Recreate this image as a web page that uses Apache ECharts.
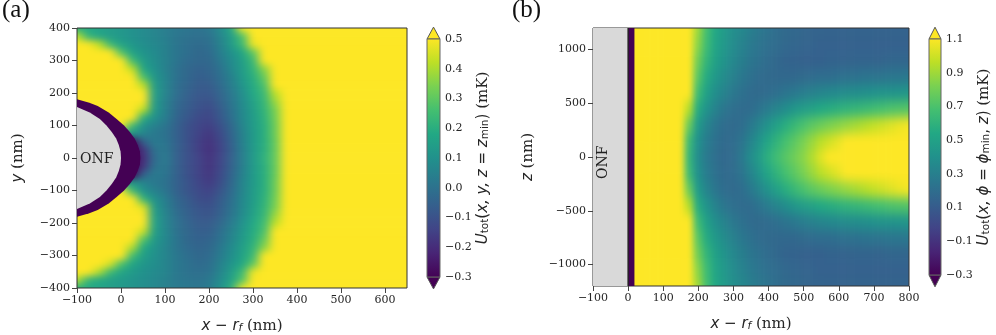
<!DOCTYPE html>
<html>
<head>
<meta charset="utf-8">
<title>Trap potential maps</title>
<script src="https://cdn.jsdelivr.net/npm/echarts@6/dist/echarts.min.js"></script>
<style>
  html, body { margin: 0; padding: 0; background: #fff; }
  #page { position: relative; width: 996px; height: 335px; overflow: hidden; }
  #overlay { position: absolute; left: 0; top: 0; width: 996px; height: 335px; }
  .clip { position: absolute; overflow: hidden; }
  .heat { position: absolute; }
  #heatA { filter: url(#softA); }
  #heatB { filter: url(#softB); }
</style>
</head>
<body>
<svg width="0" height="0" style="position:absolute">
  <filter id="softA" x="0" y="0" width="100%" height="100%" color-interpolation-filters="sRGB"><feGaussianBlur stdDeviation="4.6 3.6"/></filter>
  <filter id="softB" x="0" y="0" width="100%" height="100%" color-interpolation-filters="sRGB"><feGaussianBlur stdDeviation="3 5.5"/></filter>
</svg>
<div id="page">
  <div class="clip" style="left:77px;top:28px;width:330px;height:260px"><div class="heat" id="heatA"></div></div>
  <div class="clip" style="left:593px;top:28px;width:316px;height:258px"><div class="heat" id="heatB"></div></div>
  <div id="overlay"></div>
</div>
<script>
const viridis = ['#440154', '#482475', '#414487', '#355f8d', '#2a788e', '#21918c', '#22a884', '#44bf70', '#7ad151', '#bddf26', '#fde725'];

// panel (a): U_tot in the x-y plane, mK. Values above 0.5 are saturated in the picture
const xNmA = [-100, -75, -50, -25, 0, 25, 50, 75, 100, 125, 150, 175, 200, 225, 250, 275, 300, 325, 350, 375, 400, 425, 450, 475, 500, 525, 550, 575, 600, 625, 650];
const yNmA = [400, 375, 350, 325, 300, 275, 250, 225, 200, 175, 150, 125, 100, 75, 50, 25, 0, -25, -50, -75, -100, -125, -150, -175, -200, -225, -250, -275, -300, -325, -350, -375, -400];
const SAT = [.7, .7, .7, .7, .7, .7, .7, .7, .7, .7]; // x = 425 to 650, all yellow
const valuesA = [
  [.2, .18, .16, .14, .12, .1, .08, .06, .04, .02, .01, .0, .02, .08, .18, .48, .7, .7, .7, .7, .7, ...SAT],
  [.42, .22, .17, .14, .12, .1, .08, .06, .04, .01, .0, -.01, .0, .06, .14, .27, .65, .7, .7, .7, .7, ...SAT],
  [.7, .6, .42, .24, .16, .12, .09, .07, .05, .01, -.01, -.02, -.01, .05, .14, .24, .48, .7, .7, .7, .7, ...SAT],
  [.7, .7, .7, .5, .28, .16, .11, .08, .05, .01, -.01, -.03, -.02, .04, .1, .17, .3, .65, .7, .7, .7, ...SAT],
  [.7, .7, .7, .7, .6, .25, .14, .09, .05, .01, -.02, -.03, -.03, .02, .08, .15, .24, .5, .7, .7, .7, ...SAT],
  [.7, .7, .7, .7, .7, .42, .17, .1, .05, .0, -.03, -.05, -.04, .0, .07, .14, .22, .36, .7, .7, .7, ...SAT],
  [.7, .7, .7, .7, .7, .65, .27, .12, .06, .0, -.03, -.06, -.05, -.01, .05, .13, .2, .31, .65, .7, .7, ...SAT],
  [.7, .7, .7, .7, .7, .7, .42, .14, .06, -.01, -.04, -.07, -.07, -.02, .04, .11, .19, .27, .5, .7, .7, ...SAT],
  [.7, .7, .7, .7, .7, .7, .52, .15, .06, -.01, -.05, -.08, -.08, -.04, .02, .09, .18, .24, .42, .7, .7, ...SAT],
  [.7, .7, .7, .7, .7, .7, .54, .14, .05, -.02, -.06, -.09, -.1, -.05, .01, .08, .16, .23, .38, .7, .7, ...SAT],
  [.7, .7, .7, .7, .7, .7, .42, .13, .05, -.03, -.07, -.1, -.12, -.07, .0, .07, .15, .22, .34, .68, .7, ...SAT],
  [.7, .7, .7, .7, .7, .58, .2, .1, .04, -.04, -.08, -.12, -.13, -.08, -.01, .07, .14, .21, .33, .66, .7, ...SAT],
  [.7, .7, .7, .7, .5, .24, .1, .05, .01, -.05, -.1, -.13, -.15, -.1, -.03, .06, .14, .2, .32, .64, .7, ...SAT],
  [.1, .1, .1, .1, .1, .12, .06, .02, .0, -.05, -.1, -.14, -.17, -.12, -.04, .05, .13, .2, .32, .62, .7, ...SAT],
  [-.3, -.3, -.3, -.3, -.3, -.3, -.05, .03, .01, -.05, -.1, -.15, -.18, -.13, -.05, .05, .13, .2, .31, .62, .7, ...SAT],
  [-.3, -.3, -.3, -.3, -.3, -.3, -.18, .0, .02, -.05, -.1, -.15, -.19, -.14, -.06, .04, .13, .2, .31, .62, .7, ...SAT],
  [-.3, -.3, -.3, -.3, -.3, -.3, -.2, -.02, .03, -.05, -.1, -.14, -.18, -.13, -.05, .04, .13, .21, .31, .62, .7, ...SAT],
  [-.3, -.3, -.3, -.3, -.3, -.3, -.18, .0, .02, -.05, -.1, -.14, -.18, -.13, -.05, .04, .13, .2, .31, .62, .7, ...SAT],
  [-.3, -.3, -.3, -.3, -.3, -.3, -.05, .03, .01, -.05, -.1, -.14, -.17, -.12, -.04, .05, .13, .2, .31, .62, .7, ...SAT],
  [.1, .1, .1, .1, .1, .12, .06, .02, .0, -.05, -.09, -.13, -.16, -.11, -.03, .06, .13, .2, .32, .62, .7, ...SAT],
  [.7, .7, .7, .7, .5, .24, .1, .05, .01, -.05, -.09, -.12, -.14, -.09, -.02, .06, .14, .2, .32, .64, .7, ...SAT],
  [.7, .7, .7, .7, .7, .58, .22, .1, .04, -.03, -.07, -.11, -.12, -.07, -.01, .07, .14, .21, .33, .66, .7, ...SAT],
  [.7, .7, .7, .7, .7, .7, .46, .13, .05, -.02, -.06, -.09, -.1, -.06, .0, .07, .15, .22, .34, .68, .7, ...SAT],
  [.7, .7, .7, .7, .7, .7, .57, .15, .06, -.01, -.05, -.08, -.09, -.05, .01, .08, .16, .23, .38, .7, .7, ...SAT],
  [.7, .7, .7, .7, .7, .7, .54, .16, .06, .0, -.04, -.07, -.07, -.03, .03, .1, .18, .25, .42, .7, .7, ...SAT],
  [.7, .7, .7, .7, .7, .7, .44, .15, .07, .0, -.03, -.06, -.06, -.01, .05, .12, .19, .27, .5, .7, .7, ...SAT],
  [.7, .7, .7, .7, .7, .65, .28, .13, .07, .01, -.03, -.05, -.04, .0, .06, .13, .2, .31, .65, .7, .7, ...SAT],
  [.7, .7, .7, .7, .7, .4, .18, .11, .06, .01, -.02, -.04, -.03, .02, .08, .15, .22, .36, .7, .7, .7, ...SAT],
  [.7, .7, .7, .7, .55, .25, .15, .1, .06, .02, -.01, -.03, -.02, .03, .09, .16, .24, .5, .7, .7, .7, ...SAT],
  [.7, .7, .68, .45, .27, .17, .12, .09, .06, .02, .0, -.02, -.01, .05, .11, .18, .3, .65, .7, .7, .7, ...SAT],
  [.7, .58, .4, .24, .17, .13, .1, .08, .06, .02, .0, -.01, .0, .06, .14, .24, .48, .7, .7, .7, .7, ...SAT],
  [.4, .22, .18, .15, .13, .11, .09, .07, .05, .02, .01, .0, .02, .08, .16, .28, .65, .7, .7, .7, .7, ...SAT],
  [.2, .18, .17, .15, .13, .11, .09, .07, .05, .03, .02, .01, .03, .1, .2, .48, .7, .7, .7, .7, .7, ...SAT]
];

// panel (a): fibre cross-section and the dark crescent round it, the ends run past the left plot edge
const onfEdgeA = [[-140, 172], [-100, 157], [-71, 140], [-48, 120], [-33, 100], [-21, 80], [-11, 60], [-5, 40], [-1, 20], [0, 0], [-1, -20], [-5, -40], [-11, -60], [-21, -80], [-33, -100], [-48, -120], [-71, -140], [-100, -157], [-140, -172]];
const crescentEdgeA = [[-140, 196], [-100, 181], [-72, 170], [-53, 160], [-28, 140], [-10, 120], [7, 100], [20, 80], [31, 60], [38, 40], [43, 20], [44, 0], [43, -20], [38, -40], [31, -60], [20, -80], [7, -100], [-10, -120], [-28, -140], [-53, -160], [-72, -170], [-100, -181], [-140, -196]];

// panel (b): U_tot in the x-z plane, mK
const xNmB = [0, 25, 50, 75, 100, 125, 150, 175, 200, 225, 250, 275, 300, 325, 350, 375, 400, 425, 450, 475, 500, 525, 550, 575, 600, 625, 650, 675, 700, 725, 750, 775, 800];
const zNmB = [1200, 1050, 900, 750, 600, 450, 300, 150, 0, -150, -300, -450, -600, -750, -900, -1050, -1200];
const valuesB = [
  [1.4, 1.4, 1.4, 1.4, 1.4, 1.4, 1.4, 1.3, .9, .68, .54, .46, .39, .35, .3, .26, .23, .2, .18, .17, .16, .15, .15, .14, .14, .14, .14, .14, .14, .14, .14, .14, .14],
  [1.4, 1.4, 1.4, 1.4, 1.4, 1.4, 1.4, 1.3, .86, .66, .52, .44, .37, .32, .27, .24, .21, .19, .17, .16, .15, .14, .13, .13, .13, .13, .13, .13, .13, .13, .13, .13, .13],
  [1.4, 1.4, 1.4, 1.4, 1.4, 1.4, 1.4, 1.25, .8, .62, .5, .42, .35, .3, .25, .22, .19, .17, .15, .14, .13, .13, .13, .14, .14, .14, .15, .15, .15, .15, .16, .16, .16],
  [1.4, 1.4, 1.4, 1.4, 1.4, 1.4, 1.4, 1.18, .74, .56, .45, .37, .31, .26, .22, .19, .18, .17, .17, .17, .18, .19, .2, .2, .21, .22, .22, .23, .24, .24, .25, .25, .26],
  [1.4, 1.4, 1.4, 1.4, 1.4, 1.4, 1.3, 1.1, .66, .5, .39, .32, .26, .22, .19, .18, .19, .21, .24, .26, .29, .31, .33, .35, .36, .37, .38, .39, .4, .41, .41, .42, .43],
  [1.4, 1.4, 1.4, 1.4, 1.4, 1.4, 1.25, .95, .56, .42, .32, .25, .21, .19, .19, .23, .28, .33, .38, .43, .47, .5, .54, .56, .58, .6, .62, .64, .66, .68, .7, .71, .72],
  [1.4, 1.4, 1.4, 1.4, 1.4, 1.4, 1.18, .78, .46, .33, .25, .2, .18, .2, .26, .33, .41, .49, .57, .63, .69, .74, .78, .82, .85, .88, .91, .94, .97, 1.0, 1.03, 1.06, 1.08],
  [1.4, 1.4, 1.4, 1.4, 1.4, 1.4, 1.12, .65, .4, .29, .22, .18, .19, .24, .32, .42, .52, .6, .68, .74, .81, .88, .95, 1.0, 1.05, 1.1, 1.16, 1.22, 1.26, 1.3, 1.33, 1.36, 1.38],
  [1.4, 1.4, 1.4, 1.4, 1.4, 1.4, 1.12, .62, .38, .27, .21, .17, .19, .26, .37, .47, .58, .66, .73, .79, .85, .93, 1.03, 1.1, 1.18, 1.24, 1.3, 1.33, 1.36, 1.38, 1.4, 1.41, 1.42],
  [1.4, 1.4, 1.4, 1.4, 1.4, 1.4, 1.12, .65, .4, .29, .22, .18, .19, .24, .32, .42, .52, .6, .68, .74, .81, .88, .95, 1.0, 1.05, 1.1, 1.16, 1.22, 1.26, 1.3, 1.33, 1.36, 1.38],
  [1.4, 1.4, 1.4, 1.4, 1.4, 1.4, 1.18, .78, .46, .33, .25, .2, .18, .2, .26, .33, .41, .49, .57, .63, .69, .74, .78, .82, .85, .88, .91, .94, .97, 1.0, 1.03, 1.06, 1.08],
  [1.4, 1.4, 1.4, 1.4, 1.4, 1.4, 1.25, .95, .56, .42, .32, .25, .21, .19, .19, .23, .28, .33, .38, .43, .47, .5, .54, .56, .58, .6, .62, .64, .66, .68, .7, .71, .72],
  [1.4, 1.4, 1.4, 1.4, 1.4, 1.4, 1.3, 1.1, .66, .5, .39, .32, .26, .22, .19, .18, .19, .21, .24, .26, .29, .31, .33, .35, .36, .37, .38, .39, .4, .41, .41, .42, .43],
  [1.4, 1.4, 1.4, 1.4, 1.4, 1.4, 1.4, 1.18, .74, .56, .45, .37, .31, .26, .22, .19, .18, .17, .17, .17, .18, .19, .2, .2, .21, .22, .22, .23, .24, .24, .25, .25, .26],
  [1.4, 1.4, 1.4, 1.4, 1.4, 1.4, 1.4, 1.25, .8, .62, .5, .42, .35, .3, .25, .22, .19, .17, .15, .14, .13, .13, .13, .14, .14, .14, .15, .15, .15, .15, .16, .16, .16],
  [1.4, 1.4, 1.4, 1.4, 1.4, 1.4, 1.4, 1.3, .86, .66, .52, .44, .37, .32, .27, .24, .21, .19, .17, .16, .15, .14, .13, .13, .13, .13, .13, .13, .13, .13, .13, .13, .13],
  [1.4, 1.4, 1.4, 1.4, 1.4, 1.4, 1.4, 1.3, .9, .68, .54, .46, .39, .35, .3, .26, .23, .2, .18, .17, .16, .15, .15, .14, .14, .14, .14, .14, .14, .14, .14, .14, .14]
];

// panel (b): fibre block and the dark stripe next to it, nm
const onfEdgeB = [-100, 0];
const stripeEdgeB = [0, 18];

// tick labels
const xTicksA = [-100, 0, 100, 200, 300, 400, 500, 600];
const yTicksA = [-400, -300, -200, -100, 0, 100, 200, 300, 400];
const xTicksB = [-100, 0, 100, 200, 300, 400, 500, 600, 700, 800];
const zTicksB = [-1000, -500, 0, 500, 1000];
const cbarTicksA = [-0.3, -0.2, -0.1, 0, 0.1, 0.2, 0.3, 0.4, 0.5];
const cbarLabelsB = [-0.3, -0.1, 0.1, 0.3, 0.5, 0.7, 0.9, 1.1];

const SERIF = '"DejaVu Serif"';
const SANS = '"DejaVu Sans"';
const INK = '#262626';
const HEAT_PAD = 3;

const fmtInt = v => String(v).replace('-', '\u2212');
const fmtDec = v => v.toFixed(1).replace('-', '\u2212');

// lattice points sit on the plot edges. Edge cells are repeated outside the clip box so the
// soft filter has no transparent border to fade into
function mountHeat(id, xNm, yNm, rows, vmin, vmax, offsetX, heatW, heatH) {
  const cellW = heatW / (xNm.length - 1);
  const cellH = heatH / (yNm.length - 1);
  const nx = xNm.length + 2 * HEAT_PAD;
  const ny = yNm.length + 2 * HEAT_PAD;
  const el = document.getElementById(id);
  el.style.left = offsetX - cellW * (HEAT_PAD + 0.5) + 'px';
  el.style.top = -cellH * (HEAT_PAD + 0.5) + 'px';
  el.style.width = nx * cellW + 'px';
  el.style.height = ny * cellH + 'px';
  const cells = [];
  for (let j = 0; j < ny; j++) {
    const row = rows[Math.min(rows.length - 1, Math.max(0, j - HEAT_PAD))];
    for (let i = 0; i < nx; i++) {
      cells.push([i, j, row[Math.min(row.length - 1, Math.max(0, i - HEAT_PAD))]]);
    }
  }
  const band = n => Array.from({ length: n }, (_, i) => i);
  echarts.init(el).setOption({
    animation: false,
    grid: { left: 0, right: 0, top: 0, bottom: 0 },
    xAxis: { type: 'category', data: band(nx), show: false },
    yAxis: { type: 'category', data: band(ny), inverse: true, show: false },
    visualMap: { show: false, min: vmin, max: vmax, seriesIndex: 0, inRange: { color: viridis } },
    series: [{ type: 'heatmap', data: cells, progressive: 0, emphasis: { disabled: true } }]
  });
}

mountHeat('heatA', xNmA, yNmA, valuesA, -0.3, 0.5, 0, 330, 260);
mountHeat('heatB', xNmB, zNmB, valuesB, -0.3, 1.1, 316 / 9, 316 * 8 / 9, 258);

const mathRich = {
  m: { fontFamily: SANS, fontStyle: 'italic', fontSize: 15, color: INK },
  r: { fontFamily: SANS, fontSize: 15, color: INK },
  t: { fontFamily: SERIF, fontSize: 15, color: INK },
  si: { fontFamily: SANS, fontStyle: 'italic', fontSize: 10.5, color: INK, verticalAlign: 'bottom', padding: [5, 0, 0, 0] },
  sr: { fontFamily: SANS, fontSize: 10.5, color: INK, verticalAlign: 'bottom', padding: [5, 0, 0, 0] }
};

const noLine = { show: false, onZero: false };

function mainXAxis(gridIndex, min, max, ticks, gap) {
  return {
    gridIndex, type: 'value', min, max,
    name: '{m|x}{r| \u2212 }{m|r}{si|f}{t| (nm)}',
    nameLocation: 'middle', nameGap: gap,
    nameTextStyle: { rich: mathRich },
    axisLine: noLine,
    splitLine: { show: false },
    axisTick: { length: 5, lineStyle: { color: '#444' }, customValues: ticks },
    axisLabel: { fontFamily: SERIF, fontSize: 11, color: INK, margin: 7, formatter: fmtInt, customValues: ticks }
  };
}

function mainYAxis(gridIndex, min, max, ticks, letter, gap) {
  return {
    gridIndex, type: 'value', min, max,
    name: '{m|' + letter + '}{t| (nm)}',
    nameLocation: 'middle', nameGap: gap, nameRotate: 90,
    nameTextStyle: { rich: mathRich },
    axisLine: noLine,
    splitLine: { show: false },
    axisTick: { length: 5, lineStyle: { color: '#444' }, customValues: ticks },
    axisLabel: { fontFamily: SERIF, fontSize: 11, color: INK, margin: 7, formatter: fmtInt, customValues: ticks }
  };
}

function cbarAxis(gridIndex, min, max, labels, name, gap) {
  return {
    gridIndex, type: 'value', min, max, position: 'right',
    name, nameLocation: 'middle', nameGap: gap, nameRotate: 90,
    nameTextStyle: { rich: mathRich },
    axisLine: noLine,
    splitLine: { show: false },
    axisTick: { inside: true, length: 8, lineStyle: { color: '#222' }, customValues: labels },
    axisLabel: { fontFamily: SERIF, fontSize: 11, color: INK, margin: 5, formatter: fmtDec, customValues: labels }
  };
}

function colorBar(xi, yi, lo, hi, ext) {
  return {
    type: 'custom', xAxisIndex: xi, yAxisIndex: yi, clip: false, silent: true, z: 1,
    data: [[0, lo]],
    renderItem: (params, api) => {
      const tl = api.coord([0, hi]);
      const br = api.coord([1, lo]);
      const top = api.coord([0.5, hi + ext]);
      const bottom = api.coord([0.5, lo - ext]);
      const stops = viridis.map((color, i) => ({ offset: i / (viridis.length - 1), color }));
      return {
        type: 'group',
        children: [
          { type: 'polygon', shape: { points: [[tl[0], tl[1]], top, [br[0], tl[1]]] }, style: { fill: viridis[10], stroke: '#555', lineWidth: 1 } },
          { type: 'polygon', shape: { points: [[tl[0], br[1]], bottom, [br[0], br[1]]] }, style: { fill: viridis[0], stroke: '#555', lineWidth: 1 } },
          {
            type: 'rect',
            shape: { x: tl[0], y: tl[1], width: br[0] - tl[0], height: br[1] - tl[1] },
            style: { fill: new echarts.graphic.LinearGradient(0, 1, 0, 0, stops), stroke: '#666', lineWidth: 1 }
          }
        ]
      };
    }
  };
}

const option = {
  animation: false,
  // the axis names sit close to the page edge, keep ECharts from shrinking the plots for them
  grid: [
    { left: 77, top: 28, width: 330, height: 260, outerBoundsMode: 'none', show: true, borderColor: '#333', borderWidth: 1, backgroundColor: 'transparent' },
    { left: 593, top: 28, width: 316, height: 258, outerBoundsMode: 'none', show: true, borderColor: '#333', borderWidth: 1, backgroundColor: 'transparent' },
    { left: 427, top: 39, width: 13, height: 238, outerBoundsMode: 'none' },
    { left: 929, top: 39, width: 12, height: 236, outerBoundsMode: 'none' }
  ],
  xAxis: [
    mainXAxis(0, -100, 650, xTicksA, 30),
    mainXAxis(1, -100, 800, xTicksB, 30),
    { gridIndex: 2, type: 'value', min: 0, max: 1, show: false },
    { gridIndex: 3, type: 'value', min: 0, max: 1, show: false }
  ],
  yAxis: [
    mainYAxis(0, -400, 400, yTicksA, 'y', 51),
    mainYAxis(1, -1200, 1200, zTicksB, 'z', 57),
    cbarAxis(2, -0.3, 0.5, cbarTicksA, '{m|U}{sr|tot}{r|(}{m|x, y, z}{r| = }{m|z}{sr|min}{r|)}{t| (mK)}', 25),
    cbarAxis(3, -0.3, 1.1, cbarLabelsB, '{m|U}{sr|tot}{r|(}{m|x, \u03d5}{r| = }{m|\u03d5}{sr|min}{r|, }{m|z}{r|)}{t| (mK)}', 23),
    // short minor ticks of the second colour bar
    {
      gridIndex: 3, type: 'value', min: -0.3, max: 1.1, interval: 0.05, position: 'right',
      axisLine: noLine, splitLine: { show: false }, axisLabel: { show: false },
      axisTick: { inside: true, length: 4, lineStyle: { color: '#222' } }
    }
  ],
  series: [
    {
      // fibre and crescent of panel (a)
      type: 'custom', xAxisIndex: 0, yAxisIndex: 0, clip: true, silent: true, z: 5,
      data: [[0, 0]],
      renderItem: (params, api) => ({
        type: 'group',
        children: [
          { type: 'polygon', shape: { points: crescentEdgeA.map(p => api.coord(p)) }, style: { fill: '#440154' } },
          { type: 'polygon', shape: { points: onfEdgeA.map(p => api.coord(p)) }, style: { fill: '#d9d9d9' } },
          {
            type: 'text',
            x: api.coord([-55, 0])[0], y: api.coord([-55, -5])[1],
            style: { text: 'ONF', fontFamily: SERIF, fontSize: 14, fill: '#222', align: 'center', verticalAlign: 'middle' }
          }
        ]
      })
    },
    {
      // fibre block and stripe of panel (b)
      type: 'custom', xAxisIndex: 1, yAxisIndex: 1, clip: true, silent: true, z: 5,
      data: [[0, 0]],
      renderItem: (params, api) => {
        const rect = (x0, x1, fill) => {
          const a = api.coord([x0, 1200]);
          const b = api.coord([x1, -1200]);
          return { type: 'rect', shape: { x: a[0], y: a[1], width: b[0] - a[0], height: b[1] - a[1] }, style: { fill } };
        };
        return {
          type: 'group',
          children: [
            rect(onfEdgeB[0], onfEdgeB[1], '#d9d9d9'),
            rect(stripeEdgeB[0], stripeEdgeB[1], '#440154'),
            rect(-2, 2, '#222'),
            {
              type: 'text',
              x: api.coord([-70, 0])[0], y: api.coord([-70, -50])[1], rotation: Math.PI / 2,
              style: { text: 'ONF', fontFamily: SERIF, fontSize: 14, fill: '#222', align: 'center', verticalAlign: 'middle' }
            }
          ]
        };
      }
    },
    colorBar(2, 2, -0.3, 0.5, 0.04),
    colorBar(3, 3, -0.3, 1.1, 0.07)
  ],
  graphic: [
    { type: 'text', left: 2, top: -2, style: { text: '(a)', fontFamily: '"Liberation Serif"', fontSize: 25, fill: '#111' } },
    { type: 'text', left: 512, top: -2, style: { text: '(b)', fontFamily: '"Liberation Serif"', fontSize: 25, fill: '#111' } }
  ]
};

echarts.init(document.getElementById('overlay')).setOption(option);
</script>
</body>
</html>
